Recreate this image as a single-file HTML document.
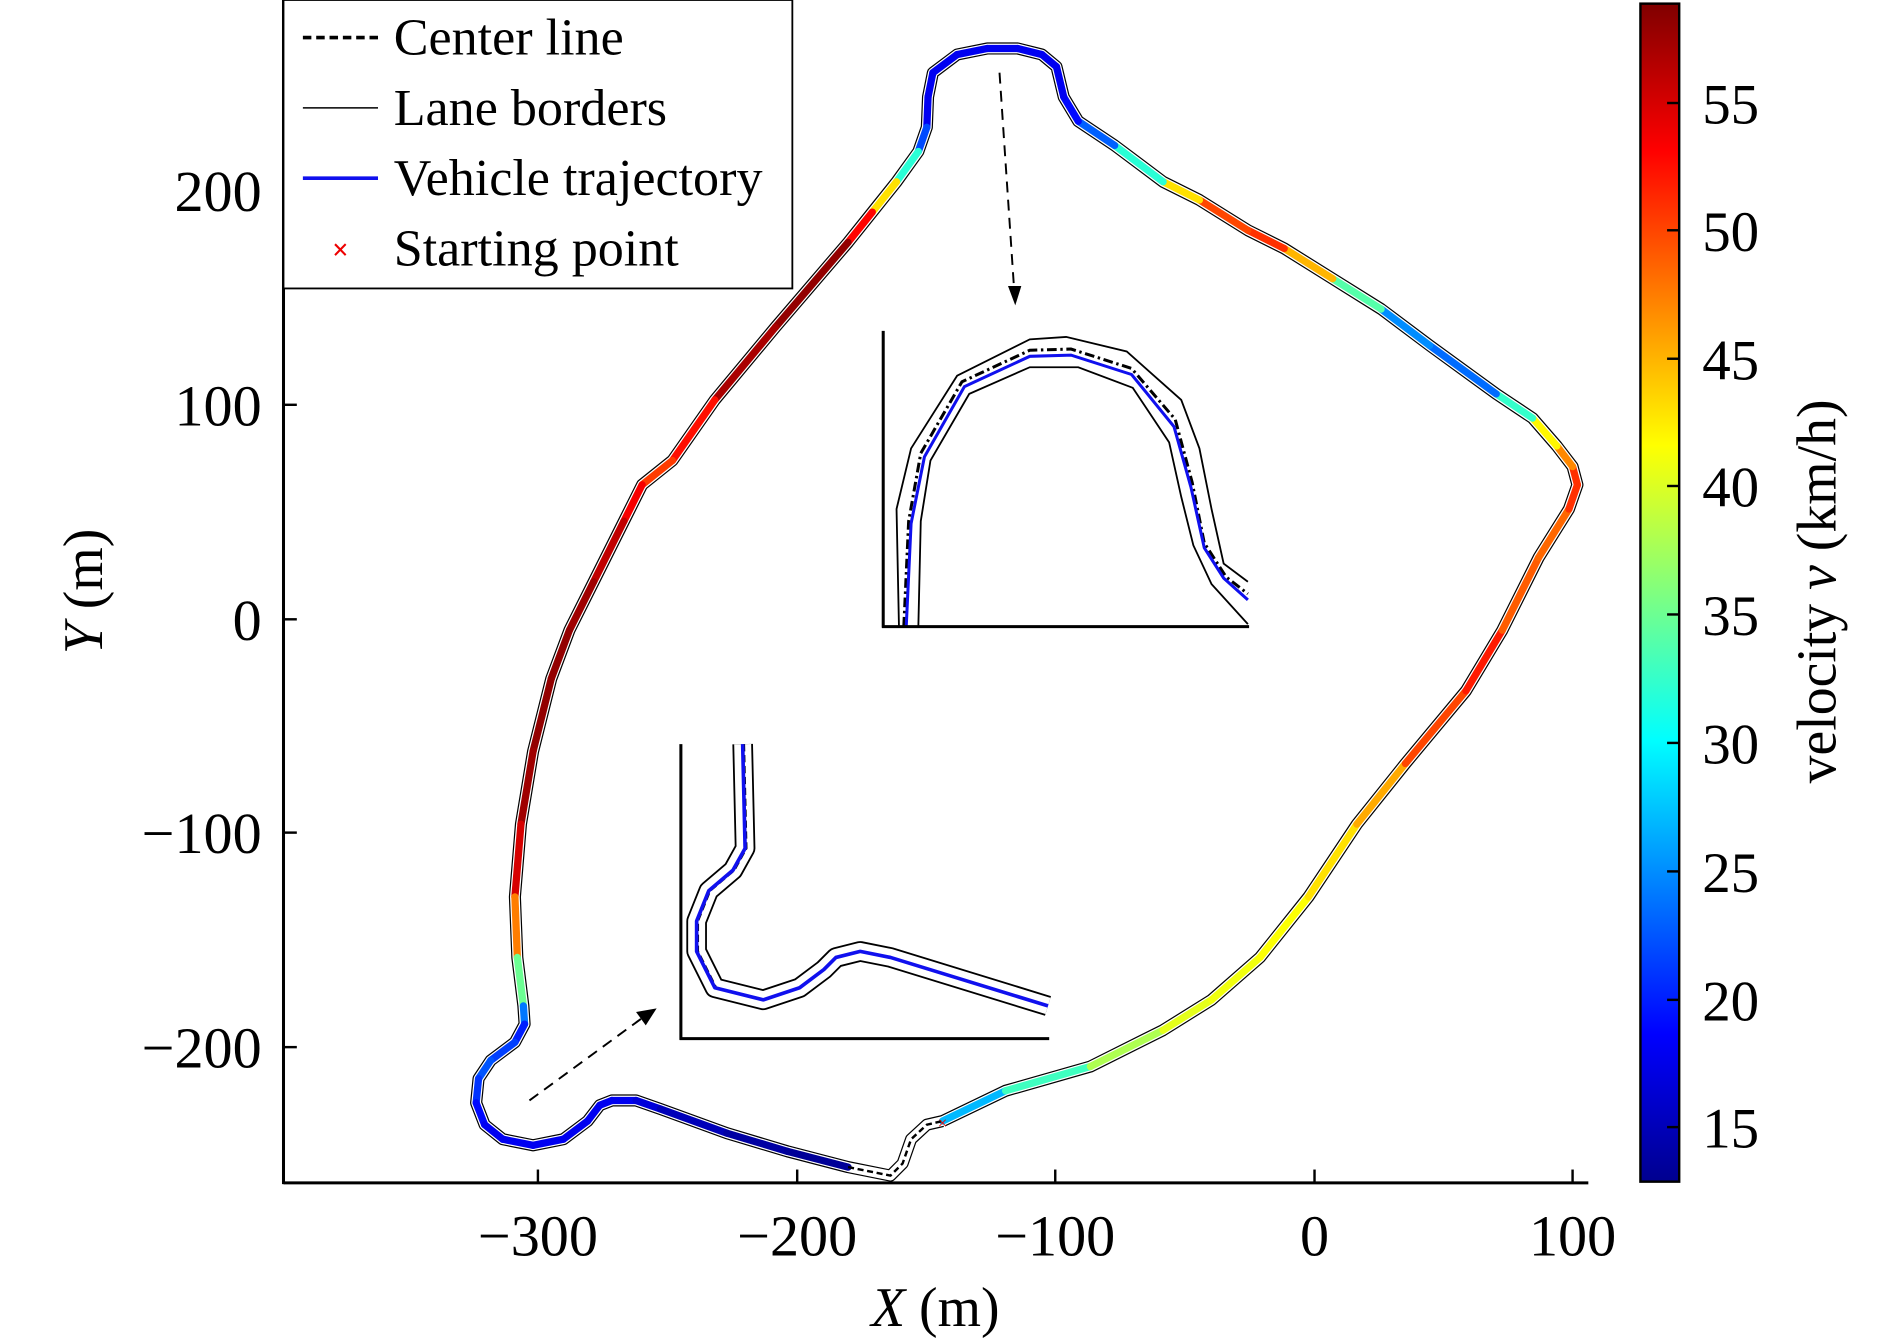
<!DOCTYPE html>
<html><head><meta charset="utf-8"><style>
html,body{margin:0;padding:0;background:#fff}
svg{display:block}
text{font-family:"Liberation Serif",serif;fill:#000}
</style></head><body>
<svg id="s" width="1890" height="1338" viewBox="0 0 1560 1104" preserveAspectRatio="none" xmlns="http://www.w3.org/2000/svg">
<defs>
<linearGradient id="jet" x1="0" y1="1" x2="0" y2="0">
<stop offset="0" stop-color="#00008f"/>
<stop offset="0.125" stop-color="#0000ff"/>
<stop offset="0.375" stop-color="#00ffff"/>
<stop offset="0.625" stop-color="#ffff00"/>
<stop offset="0.875" stop-color="#ff0000"/>
<stop offset="1" stop-color="#800000"/>
</linearGradient>
</defs>
<g id="track"></g>
<!-- axes -->
<line x1="234" y1="976" x2="1311" y2="976" stroke="#000" stroke-width="2.5"/>
<line x1="234" y1="0" x2="234" y2="977" stroke="#000" stroke-width="2.5"/>
<g stroke="#000" stroke-width="2">
<line x1="444" y1="976" x2="444" y2="965"/><line x1="658" y1="976" x2="658" y2="965"/><line x1="871" y1="976" x2="871" y2="965"/><line x1="1085" y1="976" x2="1085" y2="965"/><line x1="1298" y1="976" x2="1298" y2="965"/>
<line x1="234" y1="157" x2="245" y2="157"/><line x1="234" y1="334" x2="245" y2="334"/><line x1="234" y1="511" x2="245" y2="511"/><line x1="234" y1="687" x2="245" y2="687"/><line x1="234" y1="864" x2="245" y2="864"/>
</g>
<g font-size="48" text-anchor="middle">
<text x="444" y="1036">−300</text><text x="658" y="1036">−200</text><text x="871" y="1036">−100</text><text x="1085" y="1036">0</text><text x="1298" y="1036">100</text>
</g>
<g font-size="48" text-anchor="end">
<text x="216" y="174">200</text><text x="216" y="351">100</text><text x="216" y="528">0</text><text x="216" y="704">−100</text><text x="216" y="881">−200</text>
</g>
<text x="772" y="1094" font-size="46" text-anchor="middle"><tspan font-style="italic">X</tspan> (m)</text>
<text transform="translate(84,488) rotate(-90)" font-size="46" text-anchor="middle"><tspan font-style="italic">Y</tspan> (m)</text>
<!-- arrows -->
<line x1="825" y1="60" x2="837" y2="238" stroke="#000" stroke-width="1.6" stroke-dasharray="9,6"/>
<polygon points="832,236 843,236 838,252" fill="#000"/>
<line x1="437" y1="908" x2="530" y2="840" stroke="#000" stroke-width="1.6" stroke-dasharray="9,6"/>
<polygon points="525,835 533,846 542,832" fill="#000"/>
<!-- top inset -->
<g fill="none">
<polyline points="742,517 740,420 752,370 790,310 850,280 880,278 930,290 975,330 990,370 1000,420 1010,465 1030,480" stroke="#000" stroke-width="1.5"/>
<polyline points="758,517 760,430 768,380 800,325 850,303 890,303 935,320 965,365 975,410 985,450 1000,482 1030,515" stroke="#000" stroke-width="1.5"/>
<polyline points="746,517 750,430 760,374 794,315 850,289 884,288 934,304 970,346 984,398 994,448 1012,476 1030,490" stroke="#000" stroke-width="2.5" stroke-dasharray="8,3,2,3"/>
<polyline points="748,517 752,432 763,377 796,319 850,294 884,293 934,309 969,352 983,402 994,452 1010,477 1030,495" stroke="#1010ee" stroke-width="2.5"/>
<line x1="729" y1="273" x2="729" y2="518" stroke="#000" stroke-width="2.5"/>
<line x1="728" y1="517" x2="1031" y2="517" stroke="#000" stroke-width="2.5"/>
</g>
<!-- bottom inset -->
<g fill="none" stroke-linejoin="round">
<polyline points="613,614 615,700 605,718 585,735 575,760 575,785 590,815 630,825 660,815 680,800 690,790 710,785 735,790 865,830" stroke="#000" stroke-width="17"/>
<polyline points="613,614 615,700 605,718 585,735 575,760 575,785 590,815 630,825 660,815 680,800 690,790 710,785 735,790 865,830" stroke="#fff" stroke-width="14"/>
<polyline points="614,614 616,700 606,718 586,735 576,760 576,785 591,815 630,825 660,815 680,800 690,790 710,785 735,790 865,830" stroke="#000" stroke-width="2" stroke-dasharray="6,3"/>
<polyline points="613,614 615,700 605,718 585,735 575,760 575,785 590,815 630,825 660,815 680,800 690,790 710,785 735,790 865,830" stroke="#1010ee" stroke-width="3"/>
<line x1="562" y1="614" x2="562" y2="858" stroke="#000" stroke-width="2.5"/>
<line x1="561" y1="857" x2="866" y2="857" stroke="#000" stroke-width="2.5"/>
</g>
<!-- legend -->
<rect x="234" y="0" width="420" height="238" fill="#fff" stroke="#000" stroke-width="1.5"/>
<line x1="250" y1="31" x2="312" y2="31" stroke="#000" stroke-width="3" stroke-dasharray="7,4"/>
<line x1="250" y1="89" x2="312" y2="89" stroke="#000" stroke-width="1.2"/>
<line x1="250" y1="147" x2="312" y2="147" stroke="#1010ee" stroke-width="3"/>
<text x="281" y="214" font-size="24" font-weight="bold" style="fill:#e00" text-anchor="middle">×</text>
<g font-size="43">
<text x="325" y="45">Center line</text>
<text x="325" y="103">Lane borders</text>
<text x="325" y="161">Vehicle trajectory</text>
<text x="325" y="219">Starting point</text>
</g>
<!-- colorbar -->
<rect x="1354" y="3" width="32" height="972" fill="url(#jet)" stroke="#000" stroke-width="2"/>
<g stroke="#000" stroke-width="2">
<line x1="1376" y1="85" x2="1386" y2="85"/><line x1="1376" y1="190" x2="1386" y2="190"/><line x1="1376" y1="296" x2="1386" y2="296"/><line x1="1376" y1="401" x2="1386" y2="401"/><line x1="1376" y1="507" x2="1386" y2="507"/><line x1="1376" y1="613" x2="1386" y2="613"/><line x1="1376" y1="719" x2="1386" y2="719"/><line x1="1376" y1="825" x2="1386" y2="825"/><line x1="1376" y1="930" x2="1386" y2="930"/>
</g>
<g font-size="47">
<text x="1405" y="102">55</text><text x="1405" y="207">50</text><text x="1405" y="313">45</text><text x="1405" y="418">40</text><text x="1405" y="524">35</text><text x="1405" y="630">30</text><text x="1405" y="736">25</text><text x="1405" y="842">20</text><text x="1405" y="947">15</text>
</g>
<text transform="translate(1515,488) rotate(-90)" font-size="46" text-anchor="middle">velocity <tspan font-style="italic">v</tspan> (km/h)</text>
</svg>
<script>
var P=[[778,925,24],[830,900,30],[900,880,36],[960,850,40],[1000,825,41],[1040,790,41],[1080,740,42],[1120,680,44],[1160,630,47],[1210,570,53],[1240,520,51],[1270,460,47],[1295,420,50],[1302,400,52],[1298,385,50],[1285,368,44],[1265,345,40],[1235,325,25],[1180,285,22],[1140,255,28],[1100,230,40],[1060,205,50],[1030,190,52],[990,165,48],[960,150,38],[920,120,26],[890,100,20],[878,80,18],[872,55,18],[860,45,18],[840,40,18],[815,40,18],[790,45,18],[770,60,18],[766,80,18],[765,105,18],[758,125,26],[740,150,38],[720,175,48],[700,200,58],[640,270,58],[590,330,56],[555,380,49],[530,400,52],[515,430,55],[490,480,57],[470,520,58],[455,560,58],[440,620,58],[430,680,57],[425,740,53],[427,790,42],[432,830,28],[433,845,20],[425,860,20],[405,875,23],[395,890,22],[393,910,20],[400,928,18],[415,940,18],[440,945,18],[465,940,18],[485,925,18],[495,912,18],[505,908,18],[525,908,18],[545,915,16],[600,935,15],[650,950,14],[700,963,14]];
var E=[[700,963],[735,970],[745,960],[752,940],[765,928],[778,925]];
function c(x){return Math.max(0,Math.min(1,x));}
function jet(v){var t=(v-12.9)/46;var r=c(1.5-Math.abs(4*t-3)),g=c(1.5-Math.abs(4*t-2)),b=c(1.5-Math.abs(4*t-1));return "rgb("+Math.round(r*255)+","+Math.round(g*255)+","+Math.round(b*255)+")";}
var g=document.getElementById("track"),h="";
var all=P.map(function(p){return p[0]+","+p[1]}).concat(E.map(function(p){return p[0]+","+p[1]})).join(" ");
h+='<polyline points="'+all+'" fill="none" stroke="#000" stroke-width="10" stroke-linejoin="round"/>';
h+='<polyline points="'+all+'" fill="none" stroke="#fff" stroke-width="8" stroke-linejoin="round"/>';
for(var i=0;i<P.length-1;i++){var a=P[i],b=P[i+1];
 h+='<line x1="'+a[0]+'" y1="'+a[1]+'" x2="'+b[0]+'" y2="'+b[1]+'" stroke="'+jet((a[2]+b[2])/2)+'" stroke-width="6" stroke-linecap="round"/>';}
h+='<polyline points="'+E.map(function(p){return p[0]+","+p[1]}).join(" ")+'" fill="none" stroke="#000" stroke-width="2" stroke-dasharray="5,3"/>';
h+='<text x="778" y="931" font-size="14" text-anchor="middle" style="fill:#e00">×</text>';
g.innerHTML=h;
</script>
</body></html>
